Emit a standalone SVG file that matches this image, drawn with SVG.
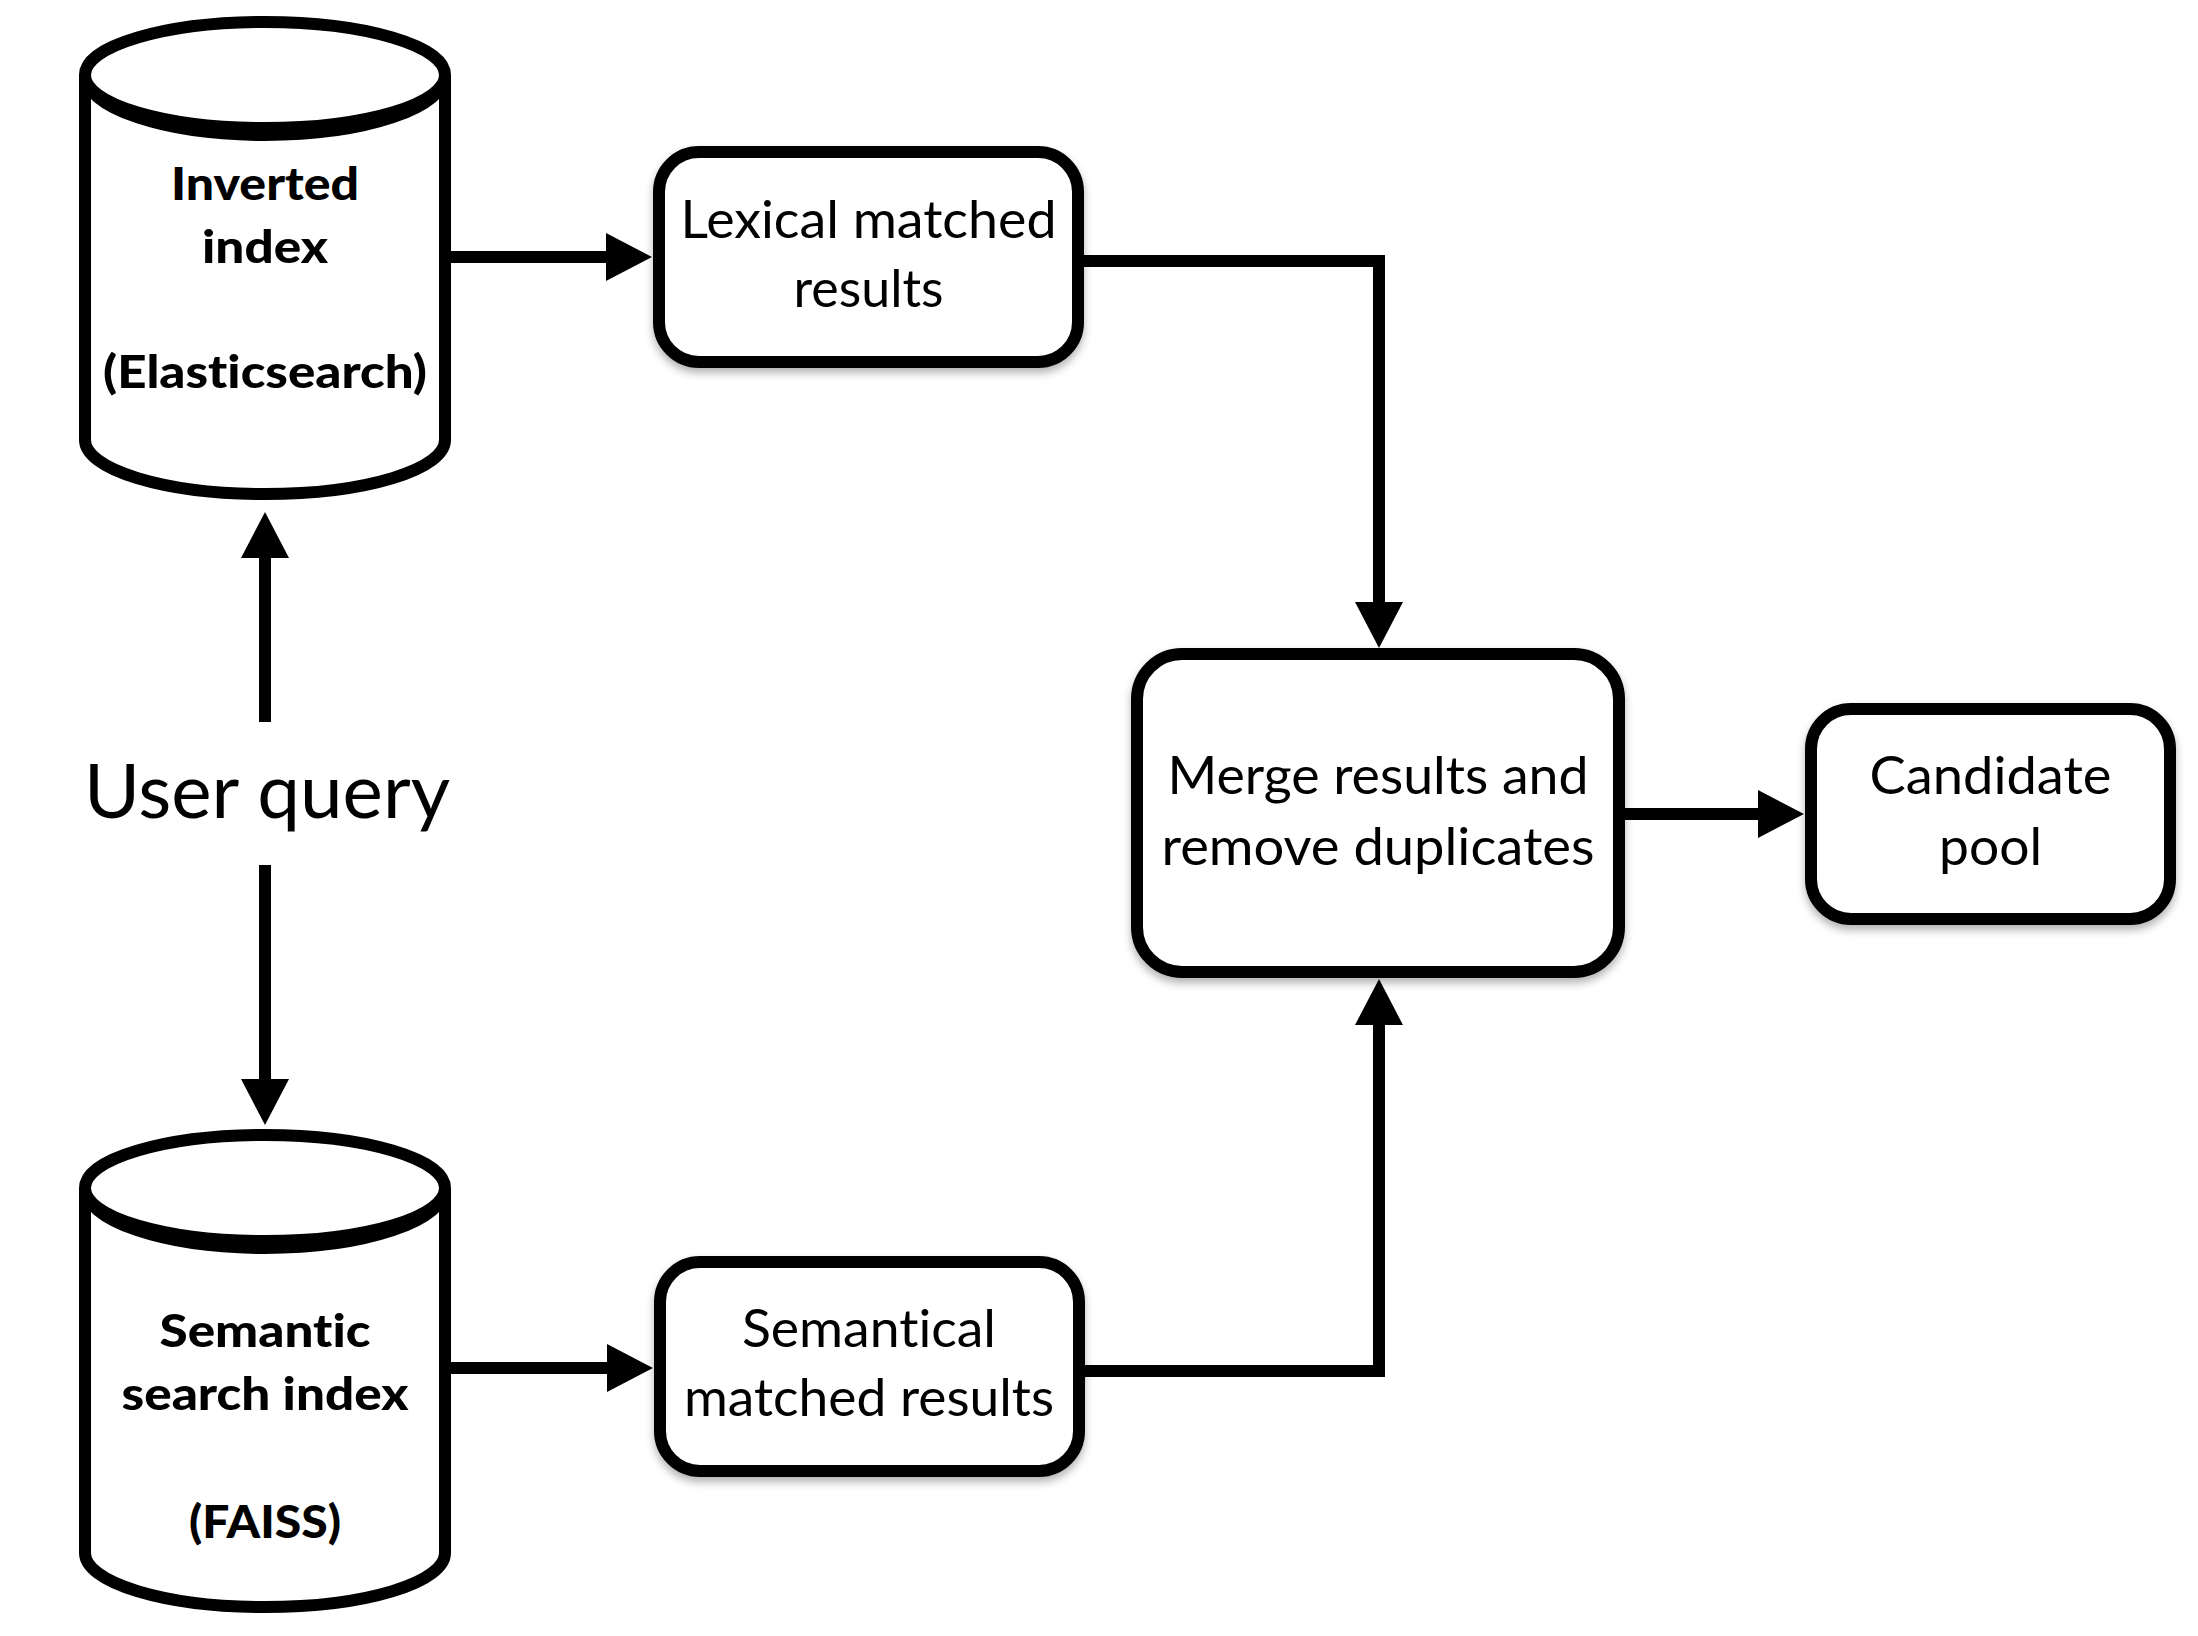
<svg xmlns="http://www.w3.org/2000/svg" width="2198" height="1636" viewBox="0 0 2198 1636">
<defs>
<style>
.bg{fill:#ffffff}
.box{fill:#ffffff;stroke:#000000;stroke-width:12}
.cyl{fill:#ffffff;stroke:#000000;stroke-width:12}
.edge{fill:none;stroke:#000000;stroke-width:12;stroke-linecap:butt;stroke-linejoin:miter}
text{font-variant-ligatures:none}
.bold{font-family:Lato,"Liberation Sans",sans-serif;font-weight:900;font-size:46px;fill:#000000;text-anchor:middle}
.reg{font-family:Lato,"Liberation Sans",sans-serif;font-weight:400;font-size:52px;fill:#000000;text-anchor:middle}
.query{font-family:Lato,"Liberation Sans",sans-serif;font-weight:400;font-size:75px;fill:#000000;text-anchor:middle}
</style>
<filter id="shadow" x="-10%" y="-10%" width="120%" height="130%">
<feDropShadow dx="0" dy="5" stdDeviation="4" flood-color="#000000" flood-opacity="0.3"/>
</filter>
<marker id="arrow" markerUnits="userSpaceOnUse" markerWidth="48" markerHeight="48" refX="1" refY="24" orient="auto" viewBox="0 0 48 48">
<path d="M0,0 L46,24 L0,48 Z" fill="#000000"/>
</marker>
</defs>
<rect class="bg" x="0" y="0" width="2198" height="1636"/>

<g id="connectors">
<path class="edge" d="M451,257 L607,257" marker-end="url(#arrow)"/>
<path class="edge" d="M1084,261 L1379,261 L1379,603" marker-end="url(#arrow)"/>
<path class="edge" d="M1085,1371 L1379,1371 L1379,1024" marker-end="url(#arrow)"/>
<path class="edge" d="M1625,814 L1759,814" marker-end="url(#arrow)"/>
<path class="edge" d="M265,722 L265,557" marker-end="url(#arrow)"/>
<path class="edge" d="M265,865 L265,1080" marker-end="url(#arrow)"/>
<path class="edge" d="M451,1368 L608,1368" marker-end="url(#arrow)"/>
</g>

<g id="inverted-index">
<path class="cyl" d="M85,75 L85,440 A180,54 0 0 0 445,440 L445,75 A180,60 0 0 1 85,75 Z"/>
<ellipse class="cyl" cx="265" cy="75" rx="180" ry="53"/>
<text class="bold" x="265" y="200" textLength="188" lengthAdjust="spacingAndGlyphs">Inverted</text>
<text class="bold" x="265" y="263" textLength="126" lengthAdjust="spacingAndGlyphs">index</text>
<text class="bold" x="265" y="388" textLength="324" lengthAdjust="spacingAndGlyphs">(Elasticsearch)</text>
</g>

<g id="semantic-index">
<path class="cyl" d="M85,1188 L85,1553 A180,54 0 0 0 445,1553 L445,1188 A180,60 0 0 1 85,1188 Z"/>
<ellipse class="cyl" cx="265" cy="1188" rx="180" ry="53"/>
<text class="bold" x="265" y="1347" textLength="211" lengthAdjust="spacingAndGlyphs">Semantic</text>
<text class="bold" x="265" y="1410" textLength="287" lengthAdjust="spacingAndGlyphs">search index</text>
<text class="bold" x="265" y="1538" textLength="152" lengthAdjust="spacingAndGlyphs">(FAISS)</text>
</g>

<g id="user-query">
<text class="query" x="267" y="818" textLength="366" lengthAdjust="spacingAndGlyphs">User query</text>
</g>

<g id="lexical-results">
<rect class="box" x="659" y="152" width="419" height="210" rx="40" ry="40" filter="url(#shadow)"/>
<text class="reg" x="868.5" y="238" textLength="376" lengthAdjust="spacingAndGlyphs">Lexical matched</text>
<text class="reg" x="868.5" y="307" textLength="150" lengthAdjust="spacingAndGlyphs">results</text>
</g>

<g id="semantical-results">
<rect class="box" x="660" y="1262" width="419" height="209" rx="40" ry="40" filter="url(#shadow)"/>
<text class="reg" x="869" y="1347" textLength="254" lengthAdjust="spacingAndGlyphs">Semantical</text>
<text class="reg" x="869" y="1416" textLength="370" lengthAdjust="spacingAndGlyphs">matched results</text>
</g>

<g id="merge">
<rect class="box" x="1137" y="654" width="482" height="318" rx="45" ry="45" filter="url(#shadow)"/>
<text class="reg" x="1378" y="794" textLength="421" lengthAdjust="spacingAndGlyphs">Merge results and</text>
<text class="reg" x="1378" y="865" textLength="433" lengthAdjust="spacingAndGlyphs">remove duplicates</text>
</g>

<g id="candidate-pool">
<rect class="box" x="1811" y="709" width="359" height="210" rx="40" ry="40" filter="url(#shadow)"/>
<text class="reg" x="1990.5" y="794" textLength="242" lengthAdjust="spacingAndGlyphs">Candidate</text>
<text class="reg" x="1990.5" y="865" textLength="103" lengthAdjust="spacingAndGlyphs">pool</text>
</g>
</svg>
